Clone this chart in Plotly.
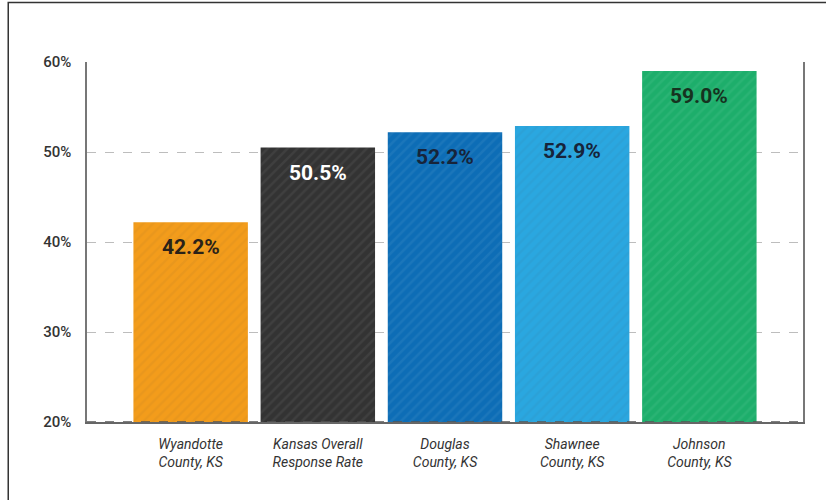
import plotly.graph_objects as go

categories = ["Wyandotte<br>County, KS", "Kansas Overall<br>Response Rate", "Douglas<br>County, KS",
              "Shawnee<br>County, KS", "Johnson<br>County, KS"]
values = [42.2, 50.5, 52.2, 52.9, 59.0]
bar_colors = ["#F39C1B", "#333333", "#0D6DB6", "#2AA7E0", "#1DAE6B"]
label_colors = ["#2a2218", "#ffffff", "#17243a", "#17243a", "#16321f"]
y_ticks = [20, 30, 40, 50, 60]
y_tick_labels = ["20%", "30%", "40%", "50%", "60%"]

fig = go.Figure()
fig.add_trace(go.Bar(
    x=list(range(len(categories))), y=values,
    marker=dict(color=bar_colors, line=dict(width=0),
                pattern=dict(shape="/", fgcolor="#ffffff", fgopacity=0.06, size=7, solidity=0.35)),
    hoverinfo="skip",
))

for i, (v, c) in enumerate(zip(values, label_colors)):
    fig.add_annotation(x=i, y=v, yanchor="top", yshift=-11, text=f"<b>{v:.1f}%</b>",
                       showarrow=False, font=dict(family="Roboto", size=21, color=c))

fig.add_shape(type="rect", xref="paper", yref="paper", x0=-0.11, x1=1.2, y0=-0.4, y1=1.165,
              line=dict(color="#333333", width=1.5), fillcolor="rgba(0,0,0,0)", layer="below")

fig.update_layout(
    width=826, height=500,
    margin=dict(l=87, r=23, t=62, b=78),
    paper_bgcolor="white", plot_bgcolor="white",
    bargap=0.1, showlegend=False,
    font=dict(family="Roboto", color="#333333"),
    xaxis=dict(range=[-0.815, 4.815], tickmode="array", tickvals=list(range(len(categories))),
               ticktext=[f"<i>{c}</i>" for c in categories],
               tickfont=dict(family="Roboto", size=14, color="#333333"),
               showgrid=False, showline=True, linecolor="#666666", linewidth=1.5,
               zeroline=False, ticks="", ticklabelstandoff=8),
    yaxis=dict(range=[20, 60], tickvals=y_ticks, ticktext=y_tick_labels,
               tickfont=dict(family="Roboto", size=15, color="#333333", weight=500),
               showgrid=True, gridcolor="#bdbdbd", griddash="dash", gridwidth=1,
               showline=True, linecolor="#777777", linewidth=1.5, mirror=True,
               zeroline=False, ticks="", ticklabelstandoff=11),
)
fig.add_hline(y=20, line=dict(color="#555555", width=1.5, dash="dash"))

fig.write_html("out.html", config={"displayModeBar": False},
               post_script="document.body.style.margin='0';document.body.style.overflow='hidden';")
